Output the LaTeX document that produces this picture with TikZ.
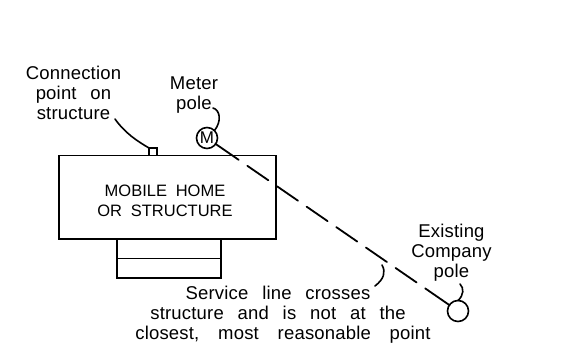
\documentclass[tikz,border=0pt]{standalone}
\usepackage{fontspec}
\setmainfont{Liberation Sans}
\newfontfamily\lblfam[WordSpace=2.6,LetterSpace=1]{Liberation Sans}
\newfontfamily\capfam[WordSpace=1.9]{Liberation Sans}
\tikzset{
  lbl/.style={inner sep=0pt,align=center,font=\lblfam\fontsize{18.5}{20}\selectfont},
  caplbl/.style={inner sep=0pt,align=center,font=\capfam\fontsize{16.5}{20}\selectfont},
  wire/.style={line width=1.8pt,line cap=round,line join=miter,outer sep=0pt},
  leader/.style={line width=1.6pt,line cap=round},
  pole/.style={circle,draw,line width=1.6pt,inner sep=0pt,minimum size=21pt,outer sep=0pt},
}
\begin{document}
\begin{tikzpicture}[x=1pt,y=-1pt]
\useasboundingbox (0,0) rectangle (578,346);
\fill[white] (0,0) rectangle (578,346);
\node[draw,wire,minimum width=217pt,minimum height=83.5pt,inner sep=0pt,anchor=north west] (home) at (59,155.5) {};
\node[caplbl] (homet) at (165,201) {MOBILE HOME\\OR STRUCTURE};
\node[draw,wire,minimum width=104pt,minimum height=19.5pt,inner sep=0pt,anchor=north west] (stepa) at (117,239) {};
\node[draw,wire,minimum width=104pt,minimum height=19.5pt,inner sep=0pt,anchor=north west] (stepb) at (117,258.5) {};
\node[draw,line width=1.5pt,minimum width=8pt,minimum height=7.5pt,inner sep=0pt,outer sep=0pt,anchor=south west] (conn) at (149,155.5) {};
\node[pole,font=\fontsize{17}{17}\selectfont] (M) at (207,138) {M};
\node[pole] (P) at (458,311) {};
\draw[wire,dash pattern=on 28pt off 10.5pt on 25.5pt off 10.5pt on 25.5pt off 10.5pt on 25.5pt off 10.5pt on 25.5pt off 10.5pt on 25.5pt off 10.5pt on 25.5pt off 10.5pt on 40pt off 10pt] (M) -- (P);
\node[lbl] (t1) at (73.5,92.5) {Connection\\point on\\structure};
\node[lbl] (t2) at (194,95.5) {Meter\\pole};
\node[lbl] (t3) at (451.5,253) {Existing\\Company\\pole};
\node[lbl,anchor=center] (t4) at (283,315) {\hspace*{-10pt}Service line crosses\\\hspace*{-10pt}structure and is not at the\\closest,\hspace{5pt} most\hspace{5pt} reasonable\hspace{5pt} point};
\coordinate (c1) at (115,119);
\coordinate (c2) at (213,108);
\coordinate (c3) at (375,286);
\coordinate (c4) at (382,265);
\coordinate (c5) at (460,284);
\draw[leader] (c1) .. controls (125,133) and (137,141) .. (conn.north west);
\draw[leader] (c2) .. controls (220,110) and (222,121) .. (M.north east);
\draw[leader] (c3) .. controls (384,279) and (386,272) .. (c4);
\draw[leader] (c5) .. controls (464,288) and (464,295) .. (P.north);
\end{tikzpicture}
\end{document}
